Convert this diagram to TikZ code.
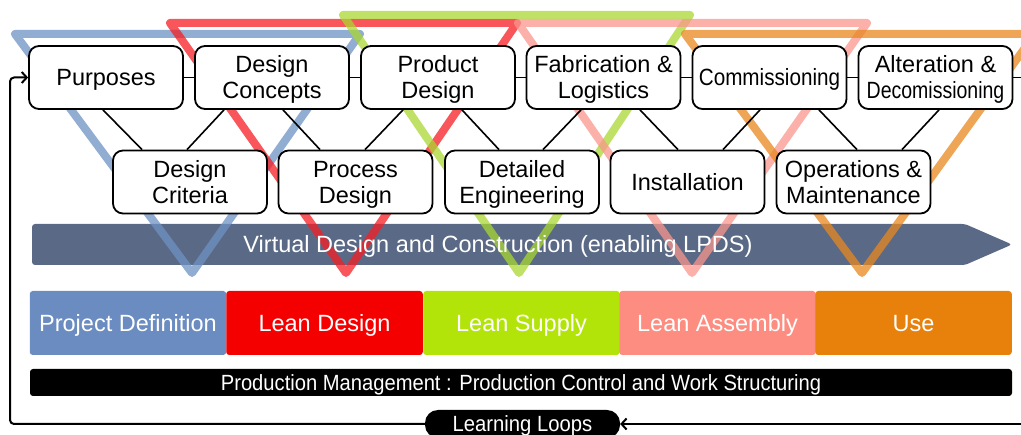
\documentclass[tikz,border=0pt]{standalone}
\usepackage{fontspec}
\setmainfont{Liberation Sans}
\usepackage{graphicx}
\usetikzlibrary{calc,arrows.meta}
\definecolor{triblue}{RGB}{110,145,195}
\definecolor{trired}{RGB}{245,30,35}
\definecolor{trigreen}{RGB}{170,215,50}
\definecolor{tripink}{RGB}{250,150,140}
\definecolor{triorange}{RGB}{232,135,30}
\definecolor{vdccol}{RGB}{90,106,134}
\definecolor{pdcol}{RGB}{107,140,193}
\definecolor{ldcol}{RGB}{245,0,0}
\definecolor{lscol}{RGB}{179,228,10}
\definecolor{lacol}{RGB}{253,141,128}
\definecolor{usecol}{RGB}{232,129,12}
\newcommand\boxfont{\fontsize{23.5}{26}\selectfont}
\newcommand\phasefont{\fontsize{23.5}{26}\selectfont}
\newcommand\bt[1]{\begin{tabular}[b]{@{}c@{}}#1\end{tabular}}
\begin{document}
\begin{tikzpicture}[x=1pt,y=-1pt,
  box/.style={draw=black, line width=1.8pt, fill=white, rounded corners=10pt,
    minimum width=154pt, minimum height=63pt, inner sep=0pt, font=\boxfont,
    text height=16.8pt, text depth=0pt},
  two/.style={text height=42.8pt},
  capc/.style={text height=16.8pt, text depth=0pt},
  phase/.style={capc, minimum width=196.5pt, minimum height=64pt, inner sep=0pt,
    rounded corners=3pt, text=white, font=\phasefont},
  tri/.style={line width=8pt, line join=round, draw opacity=0.75},
  link/.style={line width=1.6pt},
  loopline/.style={line width=2pt, rounded corners=4pt, -{Straight Barb[length=5pt,width=11pt]}}]
\useasboundingbox (0,0) rectangle (1021,435);
\clip (0,0) rectangle (1021,435);

% VDC arrow
\fill[vdccol, rounded corners=3pt] (32,244) -- (32,224) -- (965,224) -- (1012,244.5) -- (965,265) -- (32,265) -- cycle;

% triangles
\draw[tri, triblue]   (15,34) -- (360,34) -- (192,273) -- cycle;
\draw[tri, trired]    (170,23) -- (517,23) -- (346,273) -- cycle;
\draw[tri, trigreen]  (343,15) -- (690,15) -- (519,273) -- cycle;
\draw[tri, tripink]   (518,23) -- (867,23) -- (692,273) -- cycle;
\draw[tri, triorange] (685,34) -- (1035,34) -- (862,273) -- cycle;

\node[capc, inner sep=0pt, font=\phasefont, text=white] (vdc) at (498,244) {Virtual Design and Construction (enabling LPDS)};

% top boxes
\node[box] (P)  at (106,77.5)   {Purposes};
\node[box, two] (DC) at (272,77.5)   {\bt{Design\\Concepts}};
\node[box, two] (PD) at (438,77.5)   {\bt{Product\\Design}};
\node[box, two] (FL) at (603.5,77.5) {\bt{Fabrication \&\\Logistics}};
\node[box] (CO) at (769.5,77.5) {\scalebox{0.88}[1]{Commissioning}};
\node[box, two] (AD) at (935.5,77.5) {\bt{Alteration \&\\\scalebox{0.83}[1]{Decomissioning}}};

% bottom boxes
\node[box, two] (CR) at (190,182)   {\bt{Design\\Criteria}};
\node[box, two] (PR) at (355.5,182) {\bt{Process\\Design}};
\node[box, two] (DE) at (522,182)   {\bt{Detailed\\Engineering}};
\node[box] (IN) at (687.5,182) {Installation};
\node[box, two] (OM) at (853.5,182) {\bt{Operations \&\\Maintenance}};

% horizontal links
\draw[link] (P.east) -- (DC.west);
\draw[link] (DC.east) -- (PD.west);
\draw[link] (PD.east) -- (FL.west);
\draw[link] (FL.east) -- (CO.west);
\draw[link] (CO.east) -- (AD.west);
\coordinate (rightend) at (1030,77.5);
\draw[link] (AD.east) -- (rightend);

% diagonal links
\draw[link] ($(P.south)+(-3,0)$)    -- ($(CR.north)+(-48,0)$);
\draw[link] ($(DC.south)+(-48,0)$)  -- ($(CR.north)+(-3,0)$);
\draw[link] ($(DC.south)+(11,0)$)   -- ($(PR.north)+(-35.5,0)$);
\draw[link] ($(PD.south)+(-35,0)$)  -- ($(PR.north)+(9.5,0)$);
\draw[link] ($(PD.south)+(24,0)$)   -- ($(DE.north)+(-23,0)$);
\draw[link] ($(FL.south)+(-22.5,0)$) -- ($(DE.north)+(21,0)$);
\draw[link] ($(FL.south)+(36.5,0)$) -- ($(IN.north)+(-9.5,0)$);
\draw[link] ($(CO.south)+(-9.5,0)$) -- ($(IN.north)+(35.5,0)$);
\draw[link] ($(CO.south)+(49.5,0)$) -- ($(OM.north)+(3.5,0)$);
\draw[link] ($(AD.south)+(3.5,0)$)  -- ($(OM.north)+(48.5,0)$);

% phases
\node[phase, fill=pdcol]  (ph1) at (128,323)   {Project Definition};
\node[phase, fill=ldcol]  (ph2) at (324.5,323) {Lean Design};
\node[phase, fill=lscol]  (ph3) at (521.5,323) {Lean Supply};
\node[phase, fill=lacol]  (ph4) at (717.5,323) {Lean Assembly};
\node[phase, fill=usecol] (ph5) at (913.5,323) {Use};

% production management
\node[fill=black, rounded corners=3pt, minimum width=982pt, minimum height=27pt, inner sep=0pt,
  text height=16pt, text depth=0pt, text=white, font=\fontsize{22}{24}\selectfont] (pm) at (521,382.5)
  {\scalebox{0.917}[1]{Production Management : Production Control and Work Structuring}};

% learning loops
\node[fill=black, rounded corners=13pt, minimum width=195pt, minimum height=28pt, inner sep=0pt,
  text height=16pt, text depth=0pt, text=white, font=\fontsize{22}{24}\selectfont] (ll) at (522.5,424)
  {\scalebox{0.92}[1]{Learning Loops}};
\coordinate (loopin) at (1030,424);
\coordinate (c1) at (10,424);
\coordinate (c2) at (10,77.5);
\draw[loopline] (ll.west) -- (c1) -- (c2) -- (P.west);
\draw[loopline] (loopin) -- (ll.east);
\end{tikzpicture}
\end{document}
